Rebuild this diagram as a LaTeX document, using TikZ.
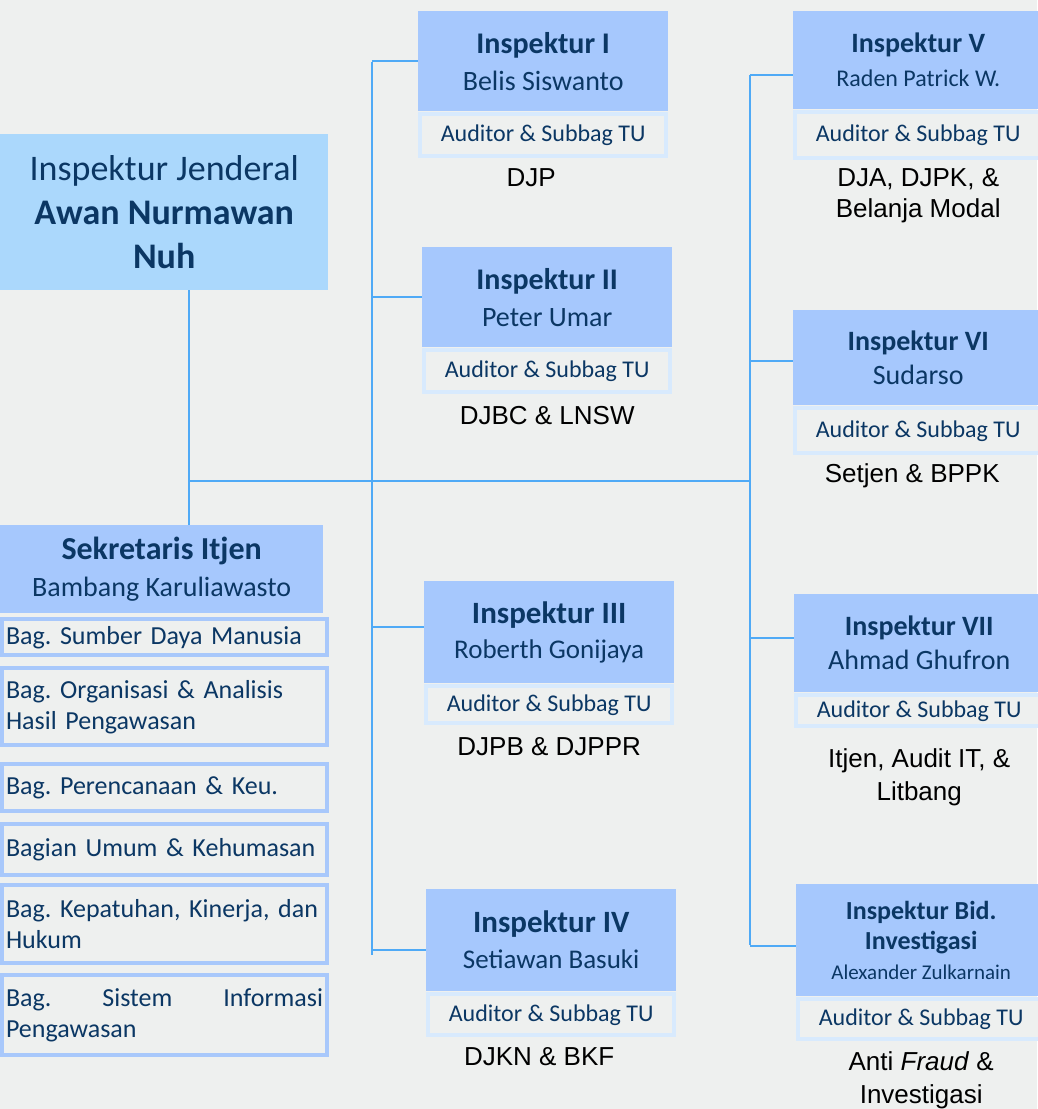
\documentclass[tikz,border=0pt]{standalone}
\usepackage{fontspec}
\setmainfont{Carlito}
\newfontfamily\labelfont{Liberation Sans}
\usepackage{xcolor}
\usetikzlibrary{positioning}
\definecolor{bgcol}{HTML}{EEF0EF}
\definecolor{headblue}{HTML}{ABD8FC}
\definecolor{boxblue}{HTML}{A6C8FD}
\definecolor{subline}{HTML}{D8EAFD}
\definecolor{bagline}{HTML}{A8C8FB}
\definecolor{navy}{HTML}{0B3764}
\definecolor{linkblue}{HTML}{4FAAF6}
\frenchspacing

\begin{document}
\begin{tikzpicture}[x=1pt, y=-1pt,
    every node/.style={inner sep=0pt, text=navy},
    head/.style={fill=headblue, anchor=north west, align=center, minimum width=328pt, minimum height=156pt, font=\fontsize{36}{44}\selectfont},
    insp/.style={fill=boxblue, anchor=north west, align=center, minimum width=250pt, minimum height=#1, font=\fontsize{28}{37}\selectfont},
    sub/.style={draw=subline, line width=4pt, fill=bgcol, minimum width=246pt, minimum height=#1, font=\fontsize{24}{28}\selectfont},
    bag/.style={draw=bagline, line width=4pt, fill=bgcol, align=left, inner xsep=4pt, text width=317pt, minimum height=#1, font=\fontsize{26}{31}\selectfont},
    lbl/.style={text=black, align=center, font=\labelfont\fontsize{26}{31}\selectfont},
    link/.style={draw=linkblue, line width=2pt}]
    \fill[bgcol] (0,0) rectangle (1037,1109);
    \useasboundingbox (0,0) rectangle (1037,1109);

    \node[head] (ij) at (0,134) {Inspektur Jenderal\\{\bfseries Awan Nurmawan}\\{\bfseries Nuh}};
    \node[insp=88pt, minimum width=323pt, font=\fontsize{28}{37}\selectfont] (sekr) at (0,525)
        {{\fontsize{32}{37}\selectfont\bfseries Sekretaris Itjen}\\Bambang Karuliawasto};
    \node[bag=36pt, below right=4pt and 0pt of sekr.south west] (bag1) {Bag. Sumber Daya Manusia};
    \node[bag=77pt, below=9pt of bag1] (bag2) {Bag. Organisasi \& Analisis\\Hasil Pengawasan};
    \node[bag=47pt, below=15pt of bag2] (bag3) {Bag. Perencanaan \& Keu.};
    \node[bag=51pt, below=9pt of bag3] (bag4) {Bagian Umum \& Kehumasan};
    \node[bag=78pt, below=6pt of bag4] (bag5) {Bag. Kepatuhan, Kinerja, dan\\Hukum};
    \node[bag=80pt, below=8pt of bag5] (bag6) {Bag.\hfill Sistem\hfill Informasi\\Pengawasan};

    \node[insp=100pt] (insp1) at (418,11) {{\fontsize{30}{37}\selectfont\bfseries Inspektur I}\\Belis Siswanto};
    \node[sub=42pt, below=1pt of insp1] (sub1) {Auditor \& Subbag TU};
    \node[lbl, below=10pt of sub1, xshift=-12pt] (obj1) {DJP};

    \node[insp=100pt] (insp2) at (422,247) {{\fontsize{30}{37}\selectfont\bfseries Inspektur II}\\Peter Umar};
    \node[sub=42pt, below=1pt of insp2] (sub2) {Auditor \& Subbag TU};
    \node[lbl, below=12pt of sub2] (obj2) {DJBC \& LNSW};

    \node[insp=102pt, font=\fontsize{27}{35}\selectfont] (insp3) at (424,581) {{\fontsize{31}{35}\selectfont\bfseries Inspektur III}\\Roberth Gonijaya};
    \node[sub=37pt, below=1pt of insp3] (sub3) {Auditor \& Subbag TU};
    \node[lbl, below=12pt of sub3] (obj3) {DJPB \& DJPPR};

    \node[insp=102pt, font=\fontsize{27}{36}\selectfont] (insp4) at (426,889) {{\fontsize{31}{36}\selectfont\bfseries Inspektur IV}\\Setiawan Basuki};
    \node[sub=41pt, below=1pt of insp4] (sub4) {Auditor \& Subbag TU};
    \node[lbl, below=10pt of sub4, xshift=-12pt] (obj4) {DJKN \& BKF};

    \node[insp=98pt, font=\fontsize{24}{34}\selectfont] (insp5) at (793,11) {{\fontsize{28}{34}\selectfont\bfseries Inspektur V}\\Raden Patrick W.};
    \node[sub=46pt, below=1pt of insp5] (sub5) {Auditor \& Subbag TU};
    \node[lbl, below=8pt of sub5] (obj5) {DJA, DJPK, \&\\Belanja Modal};

    \node[insp=95pt, font=\fontsize{28}{34}\selectfont] (insp6) at (793,310) {{\bfseries Inspektur VI}\\Sudarso};
    \node[sub=45pt, below=1pt of insp6] (sub6) {Auditor \& Subbag TU};
    \node[lbl, below=8pt of sub6, xshift=-6pt] (obj6) {Setjen \& BPPK};

    \node[insp=98pt, font=\fontsize{28}{34}\selectfont] (insp7) at (794,594) {{\bfseries Inspektur VII}\\Ahmad Ghufron};
    \node[sub=31pt, below=1pt of insp7] (sub7) {Auditor \& Subbag TU};
    \node[lbl, below=20pt of sub7, font=\labelfont\fontsize{26}{33}\selectfont] (obj7) {Itjen, Audit IT, \&\\Litbang};

    \node[insp=112pt, font=\fontsize{21}{30}\selectfont] (insp8) at (796,884) {{\fontsize{26}{30}\selectfont\bfseries Inspektur Bid.}\\{\fontsize{26}{30}\selectfont\bfseries Investigasi}\\Alexander Zulkarnain};
    \node[sub=40pt, below=1pt of insp8] (sub8) {Auditor \& Subbag TU};
    \node[lbl, below=10pt of sub8, font=\labelfont\fontsize{26}{33}\selectfont] (obj8) {Anti \textit{Fraud} \&\\Investigasi};

    \coordinate (hub) at (189,481);
    \coordinate (ltop) at (372,62);
    \coordinate (lbot) at (372,955);
    \coordinate (rtop) at (750,75);
    \coordinate (rbot) at (750,945);
    \coordinate (b3) at ([yshift=5pt]insp3.west);
    \coordinate (b4) at ([yshift=-10pt]insp4.west);
    \coordinate (b5) at ([yshift=-15pt]insp5.west);
    \coordinate (b6) at ([yshift=-3pt]insp6.west);
    \coordinate (b7) at ([yshift=5pt]insp7.west);
    \coordinate (b8) at ([yshift=-6pt]insp8.west);

    \draw[link] (hub |- ij.south) -- (hub |- sekr.north);
    \draw[link] (hub) -- (hub -| rtop);
    \draw[link] (ltop) -- (lbot);
    \draw[link] (rtop) -- (rbot);
    \draw[link] (ltop |- insp1.west) -- (insp1.west);
    \draw[link] (ltop |- insp2.west) -- (insp2.west);
    \draw[link] (b3 -| ltop) -- (b3);
    \draw[link] (b4 -| ltop) -- (b4);
    \draw[link] (b5 -| rtop) -- (b5);
    \draw[link] (b6 -| rtop) -- (b6);
    \draw[link] (b7 -| rtop) -- (b7);
    \draw[link] (b8 -| rtop) -- (b8);
\end{tikzpicture}
\end{document}
